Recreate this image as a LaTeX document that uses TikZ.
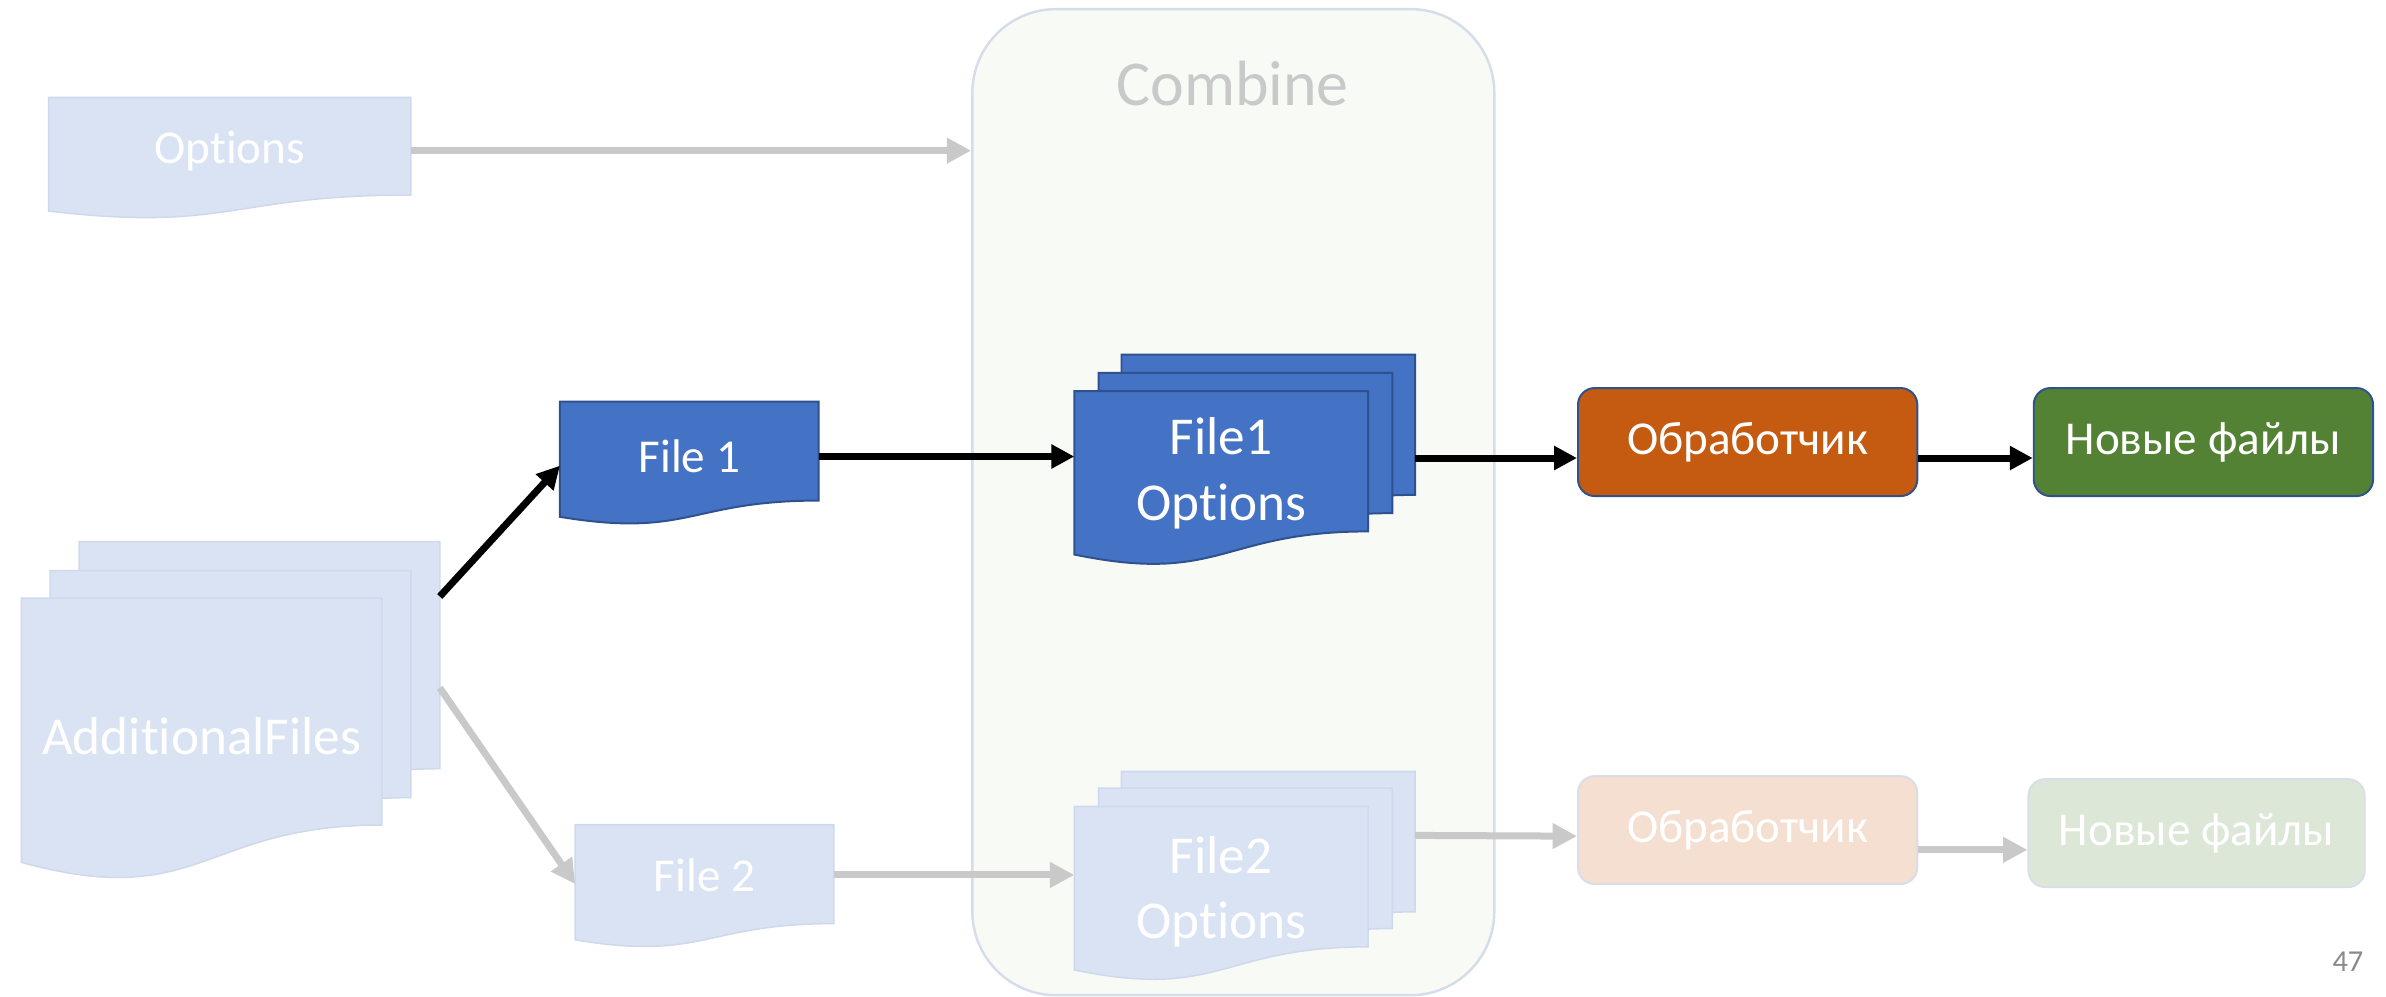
\documentclass[tikz,border=0pt]{standalone}
\usepackage{fontspec}
\setmainfont{Carlito}[Ligatures=NoCommon]
\usetikzlibrary{arrows.meta}

\definecolor{ghostfill}{HTML}{DAE3F3}
\definecolor{ghostline}{HTML}{D0D9EC}
\definecolor{bluefill}{HTML}{4472C4}
\definecolor{blueline}{HTML}{2F528F}
\definecolor{panelfill}{HTML}{F8FAF6}
\definecolor{panelline}{HTML}{D5DCEA}
\definecolor{flowgray}{HTML}{C9C9C9}
\definecolor{orangefill}{HTML}{C55A11}
\definecolor{greenfill}{HTML}{548235}
\definecolor{orangeghost}{HTML}{F4DFD1}
\definecolor{greenghost}{HTML}{DDE7D7}
\definecolor{ghostedge}{HTML}{D9DEE8}
\definecolor{pagenum}{HTML}{8A8A8A}

% flowchart "document" outline: top-left corner (#2,#3), width #4, height #5
\newcommand\docpath[5]{%
  \path[#1] (#2,#3) -- (#2+#4,#3) -- (#2+#4,#3+0.802*#5)
    .. controls (#2+0.5*#4,#3+0.802*#5) and (#2+0.5*#4,#3+1.1075*#5) ..
    (#2,#3+0.934*#5) -- cycle;}

\tikzset{
  ghostdoc/.style={fill=ghostfill, draw=ghostline, line width=1pt},
  bluedoc/.style={fill=bluefill, draw=blueline, line width=1.3pt},
  anchorbox/.style={inner sep=0pt, outer sep=0pt, text=white, align=center},
  midtext/.style={font=\fontsize{31}{37}\selectfont},
  bigtext/.style={font=\fontsize{35}{43}\selectfont},
  procbox/.style={rounded corners=11pt, line width=1.3pt, inner sep=0pt,
    minimum width=223pt, minimum height=71pt, text=white,
    font=\fontsize{31}{37}\selectfont},
  darkflow/.style={line width=4.6pt, black, -{Triangle[length=15pt,width=15pt]}},
  lightflow/.style={line width=4.6pt, flowgray, -{Triangle[length=16pt,width=16pt]}},
}

\begin{document}
\begin{tikzpicture}[x=1pt,y=-1pt]
\useasboundingbox (0,0) rectangle (1568,655);

% Combine panel
\node[fill=panelfill, draw=panelline, line width=1.6pt, rounded corners=55pt,
      minimum width=343pt, minimum height=648pt, inner sep=0pt] (comb) at (810.5,330) {};
\node[text=flowgray, font=\fontsize{42}{50}\selectfont] (combt) at (810,55) {Combine};

% Options
\docpath{ghostdoc}{32}{64}{238}{80}
\node[anchorbox, midtext, minimum width=238pt, minimum height=64pt] (opt) at (151,99) {Options};

% AdditionalFiles stack
\docpath{ghostdoc}{52}{356}{237}{186}
\docpath{ghostdoc}{33}{375}{237}{186}
\docpath{ghostdoc}{14}{393}{237}{186}
\node[anchorbox, minimum width=237pt, minimum height=149pt] (adb) at (170.5,430.5) {};
\node[anchorbox, bigtext, minimum width=237pt, minimum height=149pt] (adf) at (132.5,484) {AdditionalFiles};

% File 1 / File 2
\docpath{bluedoc}{368}{264}{170}{81}
\node[anchorbox, midtext, minimum width=170pt, minimum height=65pt] (f1) at (453,300) {File 1};
\docpath{ghostdoc}{378}{542}{170}{81}
\node[anchorbox, midtext, minimum width=170pt, minimum height=65pt] (f2) at (463,575) {File 2};

% File1 + Options stack
\docpath{bluedoc}{737}{233}{193}{115}
\docpath{bluedoc}{722}{245}{193}{115}
\docpath{bluedoc}{706}{257}{193}{115}
\node[anchorbox, minimum width=193pt, minimum height=92pt] (fo1b) at (833.5,279) {};
\node[anchorbox, bigtext, minimum width=193pt, minimum height=92pt] (fo1) at (802.5,311) {File1\\Options};

% File2 + Options stack
\docpath{ghostdoc}{737}{507}{193}{115}
\docpath{ghostdoc}{722}{518}{193}{115}
\docpath{ghostdoc}{706}{530}{193}{115}
\node[anchorbox, minimum width=193pt, minimum height=92pt] (fo2b) at (833.5,553) {};
\node[anchorbox, bigtext, minimum width=193pt, minimum height=92pt] (fo2) at (802.5,586) {File2\\Options};

% handlers and results
\node[procbox, fill=orangefill, draw=blueline] (obr1) at (1148.5,290.5) {Обработчик};
\node[procbox, fill=greenfill, draw=blueline] (new1) at (1448,290.5) {Новые файлы};
\node[procbox, fill=orangeghost, draw=ghostedge] (obr2) at (1148.5,545.5) {Обработчик};
\node[procbox, fill=greenghost, draw=ghostedge, minimum width=221pt] (new2) at (1443.5,547.5) {Новые файлы};

% page number
\node[text=pagenum, font=\fontsize{20}{24}\selectfont] (pg) at (1543,632) {47};

% faded flow
\draw[lightflow] (opt.east) -- (opt.east -| comb.west);
\draw[lightflow] ([yshift=-96pt]adb.north east) -- ([yshift=-6pt]f2.west);
\draw[lightflow] (f2.east) -- (f2.east -| fo2.west);
\draw[lightflow] ([yshift=-42pt]fo2b.north east) -- ([yshift=-4pt]obr2.west);
\draw[lightflow] ([yshift=-13pt]obr2.east) -- ([yshift=-11pt]new2.west);

% highlighted flow
\draw[darkflow] ([yshift=-36pt]adb.north east) -- ([yshift=-6pt]f1.west);
\draw[darkflow] (f1.east) -- (f1.east -| fo1.west);
\draw[darkflow] ([yshift=-68pt]fo1b.north east) -- ([yshift=-10.5pt]obr1.west);
\draw[darkflow] ([yshift=-10.5pt]obr1.east) -- ([yshift=-10.5pt]new1.west);
\end{tikzpicture}
\end{document}
